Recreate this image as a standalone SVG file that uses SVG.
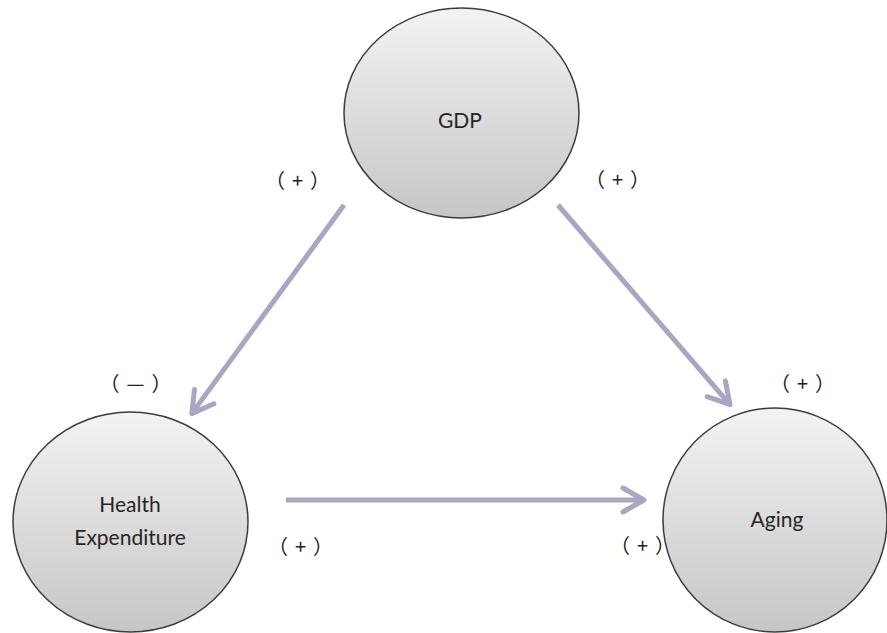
<svg xmlns="http://www.w3.org/2000/svg" width="887" height="633" viewBox="0 0 887 633">
  <defs>
    <linearGradient id="nodeFill" x1="0" y1="0" x2="0" y2="1">
      <stop offset="0" stop-color="#f3f3f3"/>
      <stop offset="1" stop-color="#c6c6c6"/>
    </linearGradient>
    <marker id="ah" markerUnits="userSpaceOnUse" viewBox="-30 -20 40 40" markerWidth="40" markerHeight="40" refX="0" refY="0" orient="auto" overflow="visible">
      <path d="M-21,-12 L0,0 L-21,12" fill="none" stroke="#a9a6c2" stroke-width="5" stroke-linejoin="round" stroke-linecap="round"/>
    </marker>
  </defs>
  <style>
    .node { fill: url(#nodeFill); stroke: #3c3c3c; stroke-width: 1.5; }
    .lbl { font-family: Lato, "Open Sans", "Liberation Sans", sans-serif; font-size: 21px; fill: #262626; text-anchor: middle; }
    .sign { font-family: "Noto Sans CJK SC", sans-serif; font-size: 20px; fill: #222222; text-anchor: middle; text-spacing-trim: space-all; letter-spacing: 7px; }
    .conn { stroke: #a9a6c2; stroke-width: 5; fill: none; marker-end: url(#ah); }
  </style>
  <rect width="887" height="633" fill="#ffffff"/>

  <g id="connectors">
    <line class="conn" x1="344" y1="205" x2="191.8" y2="413.6"/>
    <line class="conn" x1="558" y1="205" x2="730" y2="404.7"/>
    <line class="conn" x1="286" y1="500" x2="644" y2="500"/>
  </g>

  <g id="node-gdp">
    <ellipse class="node" cx="461.5" cy="113" rx="117.5" ry="105"/>
    <text class="lbl" x="460" y="128">GDP</text>
  </g>
  <g id="node-health">
    <ellipse class="node" cx="130.5" cy="522" rx="117.5" ry="110"/>
    <text class="lbl" x="130" y="512">Health</text>
    <text class="lbl" x="130" y="545">Expenditure</text>
  </g>
  <g id="node-aging">
    <ellipse class="node" cx="775" cy="520" rx="112" ry="112"/>
    <text class="lbl" x="777" y="527">Aging</text>
  </g>

  <g id="signs">
    <text class="sign" x="301" y="188">（+）</text>
    <text class="sign" x="621" y="187">（+）</text>
    <text class="sign" x="139" y="391">（—）</text>
    <text class="sign" x="806" y="391">（+）</text>
    <text class="sign" x="304" y="554">（+）</text>
    <text class="sign" x="646" y="553">（+）</text>
  </g>
</svg>
